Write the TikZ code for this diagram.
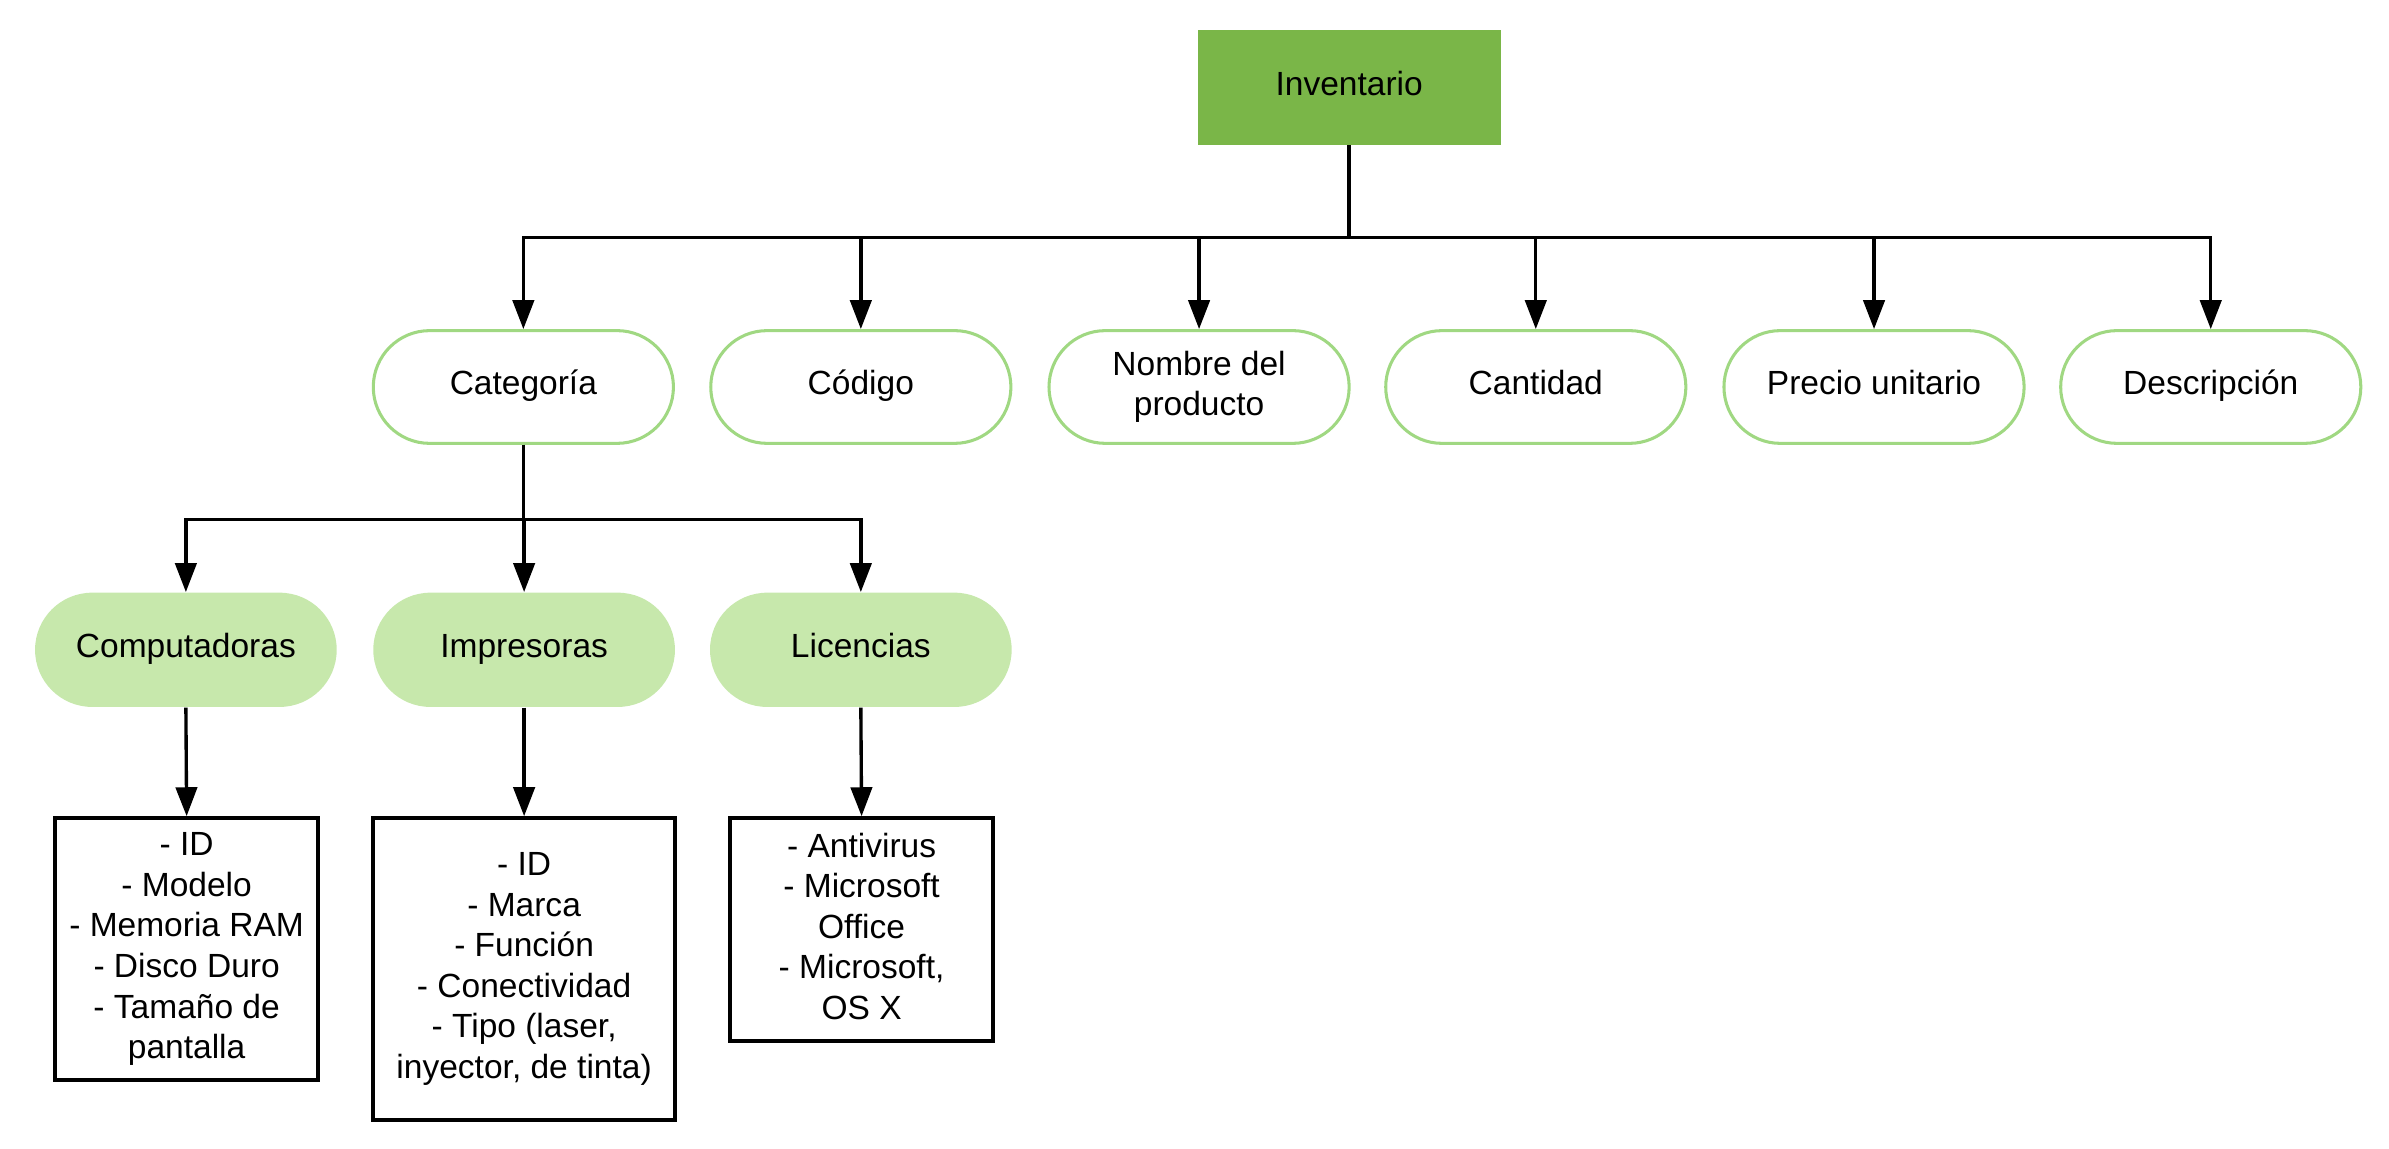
\documentclass[tikz,border=0pt]{standalone}
\usepackage{fontspec}
\setmainfont{Liberation Sans}
\usetikzlibrary{arrows.meta}
\definecolor{invgreen}{HTML}{7AB648}
\definecolor{pillborder}{HTML}{A0D882}
\definecolor{pillfill}{HTML}{C7E8AC}
\newcommand{\lastdp}{\vphantom{p}}
\tikzset{
  txt/.style={font=\fontsize{11}{13.3}\selectfont, align=center, text=black, inner sep=0pt},
  oneline/.style={text height=0.75em, text depth=0.25em},
  topbox/.style={txt, oneline, rectangle, fill=invgreen, minimum width=99.5pt, minimum height=37.5pt},
  pill/.style={txt, rectangle, draw=pillborder, line width=1pt, fill=white, rounded corners=18.5pt, minimum width=98.5pt, minimum height=37pt},
  subpill/.style={txt, oneline, rectangle, fill=pillfill, rounded corners=18.75pt, minimum width=99pt, minimum height=37.5pt},
  listbox/.style={txt, rectangle, draw=black, line width=1.3pt, fill=white},
  conn/.style={draw=black, line width=1.1pt},
  arr/.style={conn, -{Triangle[length=9.5pt,width=7pt]}}
}
\begin{document}
\begin{tikzpicture}[x=0.5pt,y=-0.5pt]
\useasboundingbox (0,0) rectangle (1568,754);
% top
\node[topbox] (inv) at (885.5,57.5) {Inventario};
% row 1
\node[pill, oneline] (cat) at (343.5,254) {Categoría};
\node[pill, oneline] (cod) at (565,254) {Código};
\node[pill] (nom) at (787,254) {Nombre del\\producto};
\node[pill, oneline] (can) at (1008,254) {Cantidad};
\node[pill, oneline] (pre) at (1230,254) {Precio unitario};
\node[pill, oneline] (des) at (1451,254) {Descripción};
% row 2
\node[subpill] (com) at (122,426.5) {Computadoras};
\node[subpill] (imp) at (344,426.5) {Impresoras};
\node[subpill] (lic) at (565,426.5) {Licencias};
% list boxes
\node[listbox, minimum width=86.5pt, minimum height=86pt] (lcom) at (122.5,623) {- ID\\- Modelo\\- Memoria RAM\\- Disco Duro\\- Tamaño de\\pantalla\lastdp};
\node[listbox, minimum width=99pt, minimum height=99pt] (limp) at (344,636) {- ID\\- Marca\\- Función\\- Conectividad\\- Tipo (laser,\\inyector, de tinta)\lastdp};
\node[listbox, minimum width=86.5pt, minimum height=73pt] (llic) at (565.5,610) {- Antivirus\\- Microsoft\\Office\\- Microsoft,\\OS X\lastdp};
% buses
\coordinate (bus1) at (885.5,156);
\coordinate (bus2) at (343.5,341);
\foreach \c in {cat,cod,nom,can,pre,des}{
  \draw[arr] (inv.south) -- (inv.south |- bus1) -| (\c.north);
}
\foreach \c in {com,imp,lic}{
  \draw[arr] (cat.south) -- (cat.south |- bus2) -| (\c.north);
}
\draw[arr] (com.south) -- (lcom.north);
\draw[arr] (imp.south) -- (limp.north);
\draw[arr] (lic.south) -- (llic.north);
\end{tikzpicture}
\end{document}
